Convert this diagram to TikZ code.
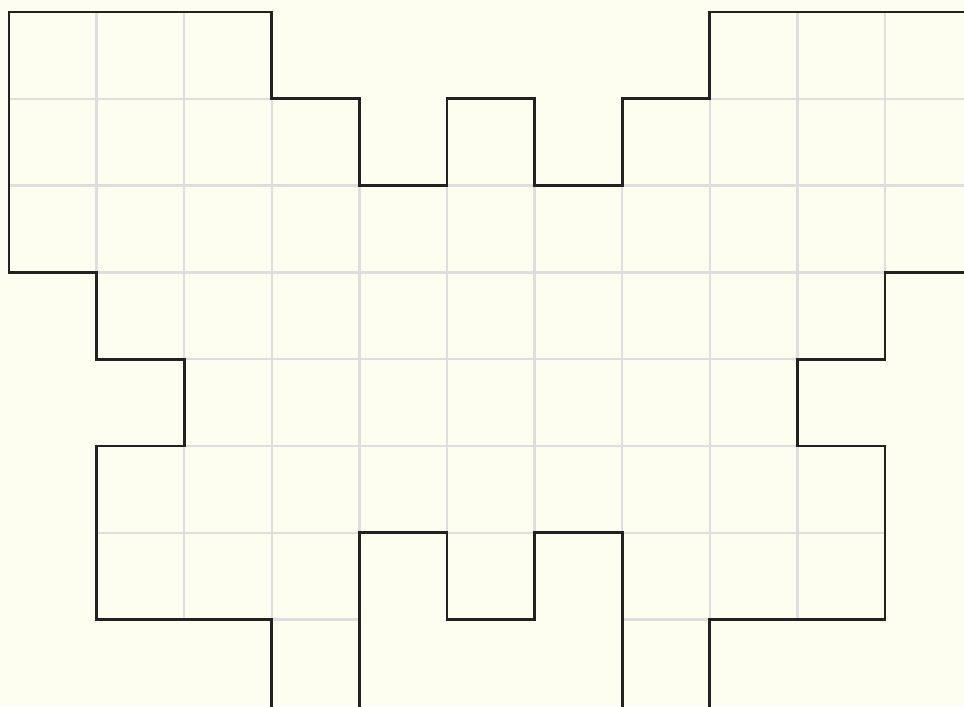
\documentclass[tikz,border=0pt]{standalone}
\usepackage{tikz}
\definecolor{paper}{RGB}{253,253,240}
\definecolor{gridgray}{RGB}{222,222,222}
\definecolor{outline}{RGB}{34,34,34}
\def\wingshape{(0,0) -- (3,0) -- (3,1) -- (4,1) -- (4,2) -- (5,2) -- (5,1) -- (6,1) -- (6,2) -- (7,2) -- (7,1) -- (8,1) -- (8,0) -- (11,0) -- (11,3) -- (10,3) -- (10,4) -- (9,4) -- (9,5) -- (10,5) -- (10,7) -- (8,7) -- (8,8.5) -- (7,8.5) -- (7,6) -- (6,6) -- (6,7) -- (5,7) -- (5,6) -- (4,6) -- (4,8.5) -- (3,8.5) -- (3,7) -- (1,7) -- (1,5) -- (2,5) -- (2,4) -- (1,4) -- (1,3) -- (0,3) -- cycle}
\begin{document}
\begin{tikzpicture}[
            cellline/.style={draw=gridgray, line width=0.65pt},
            border/.style={draw=outline, line width=0.75pt, line join=miter}
        ]
        \clip (0,0) rectangle (9.64,-7.06);
        \fill[paper] (0,0) rectangle (9.64,-7.06);
        \begin{scope}[shift={(0.09,-0.12)}, x=0.876cm, y=-0.868cm]
            % grid only inside the shape
            \begin{scope}
                \clip \wingshape;
                \foreach \c in {1,...,10}
                    \draw[cellline] (\c,0) -- (\c,9);
                \foreach \r in {1,...,7}
                    \draw[cellline] (0,\r) -- (11,\r);
            \end{scope}
            \draw[border] \wingshape;
        \end{scope}
    \end{tikzpicture}
\end{document}
